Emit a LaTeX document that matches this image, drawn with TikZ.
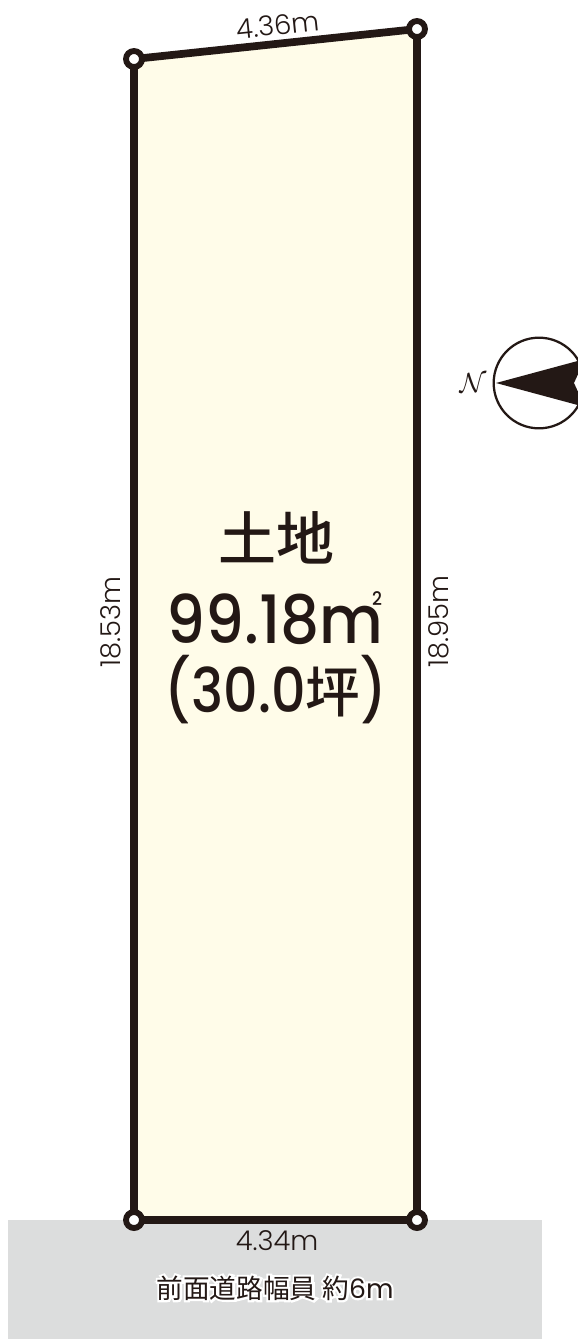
\documentclass[tikz,border=0pt]{standalone}
\usepackage{fontspec}
\setmainfont{Poppins Light}
\newfontfamily\regfont{Poppins}
\newfontfamily\bigfont[FakeStretch=0.92]{Poppins Medium}
\newfontfamily\midfont[FakeStretch=0.88]{Poppins Medium}
\newfontfamily\cjk{Noto Sans CJK JP}
\newfontfamily\cjkm{Noto Sans CJK JP Medium}
\newfontfamily\halocjk[FakeBold=16]{Noto Sans CJK JP}
\newfontfamily\halolat[FakeBold=16]{Poppins}
\definecolor{ink}{HTML}{231815}
\definecolor{land}{HTML}{FFFCE9}
\definecolor{road}{HTML}{DCDDDD}
\tikzset{
  x=0.75pt,y=-0.75pt,
  corner/.style={circle,draw=ink,fill=white,line width=4.4pt,minimum size=12pt,inner sep=0pt},
  edge/.style={draw=ink,line width=5.8pt},
  dim/.style={text=ink,font=\fontsize{20.5}{22}\selectfont,inner sep=0pt},
  big/.style={text=ink,inner sep=0pt,align=center},
}
\begin{document}
\begin{tikzpicture}
\useasboundingbox (0,0) rectangle (578,1339);
\clip (0,0) rectangle (578,1339);
\fill[road] (8,1220) rectangle (542,1339);
\coordinate (a) at (134,59);
\coordinate (b) at (417,29);
\coordinate (c) at (417,1220);
\coordinate (d) at (134,1220);
\fill[land] (a)--(b)--(c)--(d)--cycle;
\draw[edge,line join=miter] (a)--(b)--(c)--(d)--cycle;
\node[corner] (na) at (a) {};
\node[corner] (nb) at (b) {};
\node[corner] (nc) at (c) {};
\node[corner] (nd) at (d) {};
\node[dim,rotate=6] (top) at (278,25) {4.36m};
\node[dim] (bottom) at (277,1241) {4.34m};
\node[dim,rotate=90] (left) at (111,622) {18.53m};
\node[dim,rotate=90] (right) at (439,622) {18.95m};
\node[big,font=\cjkm\fontsize{43.5}{44}\selectfont] (title) at (276,538) {土地};
\node[big,font=\bigfont\fontsize{50}{50}\selectfont] (area) at (275,619) {99.18m};
\node[big,font=\bigfont\fontsize{14}{14}\selectfont] (sq) at (377,599) {2};
\node[big,font=\midfont\fontsize{46}{46}\selectfont] (tsubo) at (276,690) {(30.0{\cjkm\fontsize{41}{41}\selectfont 坪})};
\node[inner sep=0pt,text=white,font=\fontsize{20}{22}\selectfont] (halo) at (275,1288) {{\halocjk 前面道路幅員 約}{\halolat 6m}};
\node[inner sep=0pt,text=ink,font=\fontsize{20}{22}\selectfont] (roadlabel) at (275,1288) {{\cjk 前面道路幅員 約}{\regfont 6m}};
% compass
\node[circle,draw=ink,line width=1.7pt,minimum size=68pt,inner sep=0pt] (compass) at (539,383) {};
\coordinate (tip) at (496,383);
\fill[ink] (tip)--(585,359)--(574,383)--(585,407)--cycle;
\node[text=ink,inner sep=0pt,font=\fontsize{21}{21}\selectfont] (north) at (473,383) {$\mathcal{N}$};
\end{tikzpicture}
\end{document}
